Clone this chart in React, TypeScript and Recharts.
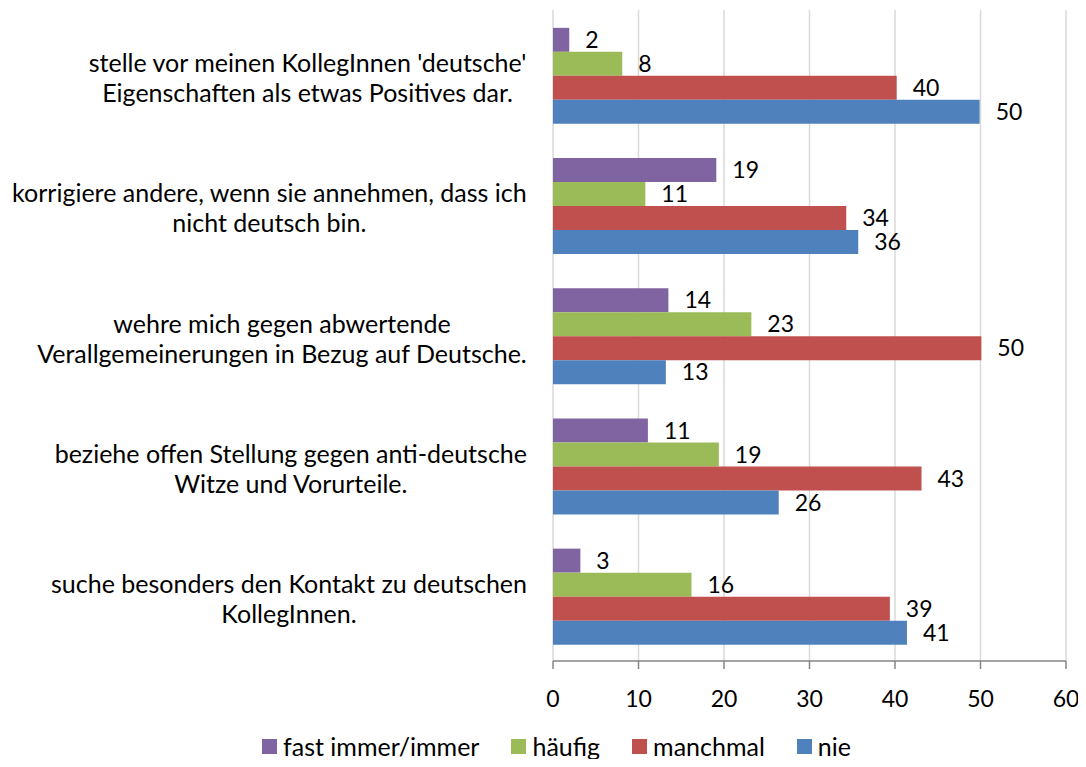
import React from "react";
import { BarChart, Bar, XAxis, YAxis, CartesianGrid, Legend, LabelList } from "recharts";

// Kategorien (von oben nach unten), Zeilenumbruch wie im Original
const categories = [
  "stelle vor meinen KollegInnen 'deutsche'\nEigenschaften als etwas Positives dar.",
  "korrigiere andere, wenn sie annehmen, dass ich\nnicht deutsch bin.",
  "wehre mich gegen abwertende\nVerallgemeinerungen in Bezug auf Deutsche.",
  "beziehe offen Stellung gegen anti-deutsche\nWitze und Vorurteile.",
  "suche besonders den Kontakt zu deutschen\nKollegInnen.",
];

const fastImmer = [1.9, 19.1, 13.5, 11.1, 3.2];
const haeufig = [8.1, 10.8, 23.2, 19.4, 16.2];
const manchmal = [40.2, 34.3, 50.1, 43.1, 39.4];
const nie = [49.9, 35.7, 13.2, 26.4, 41.4];

const xTicks = [0, 10, 20, 30, 40, 50, 60];
const boundaryTicks = [0, 1, 2, 3, 4, 5];

const seriesKeys = ["fast", "haeufig", "manchmal", "nie"];
const seriesNames = ["fast immer/immer", "häufig", "manchmal", "nie"];
const seriesColors = ["#8064A2", "#9BBB59", "#C0504D", "#4F81BD"];

const data = categories.map((cat, i) => ({
  cat,
  fast: fastImmer[i],
  haeufig: haeufig[i],
  manchmal: manchmal[i],
  nie: nie[i],
}));

const FONT = "Lato, sans-serif";
const FS = 25; // Texte
const NUM_FS = 23; // Zahlen
const AXIS = "#868686";

let ctx: CanvasRenderingContext2D | null = null;
function textWidth(s: string) {
  if (!ctx) ctx = document.createElement("canvas").getContext("2d");
  if (!ctx) return s.length * FS * 0.5;
  ctx.font = `${FS}px Lato`;
  return ctx.measureText(s).width;
}

function CategoryTick(props: any) {
  const { x, y, payload } = props;
  const lines = String(payload.value).split("\n");
  const w = Math.max(...lines.map(textWidth));
  const cx = x - w / 2;
  return (
    <g>
      {lines.map((l, i) => (
        <text
          key={i}
          x={cx}
          y={y + (i - (lines.length - 1) / 2) * 30 + 2}
          textAnchor="middle"
          dominantBaseline="central"
          fontFamily={FONT}
          fontSize={FS}
          fill="#000"
        >
          {l}
        </text>
      ))}
    </g>
  );
}

function LegendBox() {
  return (
    <div
      style={{
        display: "flex",
        justifyContent: "center",
        alignItems: "center",
        height: 46,
        paddingLeft: 47,
        paddingTop: 4,
        boxSizing: "border-box",
        fontFamily: FONT,
        fontSize: FS,
        color: "#000",
      }}
    >
      {seriesNames.map((n, i) => (
        <div key={n} style={{ display: "flex", alignItems: "center", marginRight: i < seriesNames.length - 1 ? 32 : 0 }}>
          <span style={{ width: 15, height: 15, background: seriesColors[i], marginRight: 6, display: "inline-block" }} />
          <span>{n}</span>
        </div>
      ))}
    </div>
  );
}

export default function App() {
  return (
    <div style={{ margin: -8, width: 1086, height: 767, background: "#fff" }}>
      <BarChart
        width={1086}
        height={767}
        data={data}
        layout="vertical"
        margin={{ top: 10, right: 20, left: 0, bottom: 0 }}
        barCategoryGap="13.7%"
        barGap={0}
      >
        <CartesianGrid horizontal={false} stroke="#d9d9d9" strokeWidth={1.5} yAxisId="cat" />
        <XAxis
          type="number"
          domain={[0, 60]}
          ticks={xTicks}
          height={60}
          tickSize={8}
          tickMargin={22}
          axisLine={{ stroke: AXIS, strokeWidth: 1.5 }}
          tickLine={{ stroke: AXIS, strokeWidth: 1.5 }}
          tick={{ fontFamily: FONT, fontSize: NUM_FS, fill: "#000" }}
        />
        <YAxis
          yAxisId="bounds"
          type="number"
          domain={[0, 5]}
          ticks={boundaryTicks}
          allowDataOverflow
          reversed
          width={0}
          tick={false}
          tickSize={8}
          axisLine={{ stroke: AXIS, strokeWidth: 1.5 }}
          tickLine={{ stroke: AXIS, strokeWidth: 1.5 }}
        />
        <YAxis
          yAxisId="cat"
          type="category"
          dataKey="cat"
          width={553}
          interval={0}
          axisLine={false}
          tickLine={false}
          tickSize={0}
          tickMargin={26}
          tick={<CategoryTick />}
        />
        <Legend verticalAlign="bottom" height={46} content={() => <LegendBox />} />
        {seriesKeys.map((k, i) => (
          <Bar
            key={k}
            dataKey={k}
            name={seriesNames[i]}
            yAxisId="cat"
            fill={seriesColors[i]}
            isAnimationActive={false}
          >
            <LabelList
              dataKey={k}
              position="right"
              offset={16}
              formatter={(v: any) => Math.round(Number(v))}
              fill="#000"
              fontFamily={FONT}
              fontSize={NUM_FS}
            />
          </Bar>
        ))}
      </BarChart>
    </div>
  );
}
